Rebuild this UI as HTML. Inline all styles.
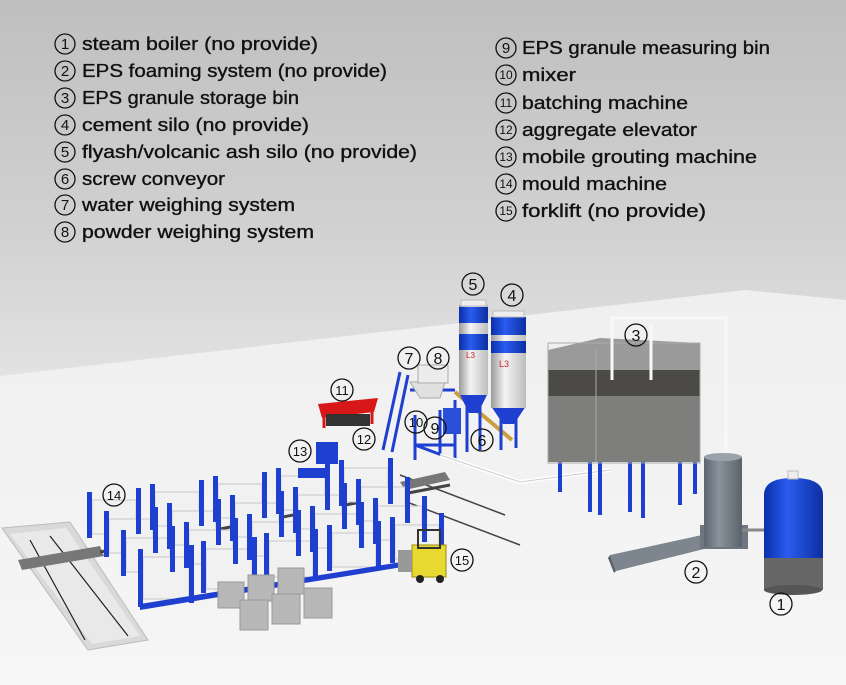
<!DOCTYPE html>
<html><head><meta charset="utf-8"><style>
html,body{margin:0;padding:0;width:846px;height:685px;overflow:hidden;background:#ddd}
svg{display:block}
text{font-family:"Liberation Sans",sans-serif;fill:#111}
.lg text{stroke:#111;stroke-width:0.35}
</style></head><body>
<svg width="846" height="685" viewBox="0 0 846 685" xmlns="http://www.w3.org/2000/svg">
<defs>
<linearGradient id="bg" x1="0" y1="0" x2="0" y2="1">
<stop offset="0" stop-color="#bfbfbf"/><stop offset="0.35" stop-color="#d2d2d2"/><stop offset="0.55" stop-color="#e2e2e2"/><stop offset="1" stop-color="#e8e8e8"/></linearGradient>
<linearGradient id="fl" x1="0" y1="0" x2="0" y2="1">
<stop offset="0" stop-color="#efefef"/><stop offset="1" stop-color="#f6f6f6"/></linearGradient>
<linearGradient id="cyl" x1="0" y1="0" x2="1" y2="0">
<stop offset="0" stop-color="#9a9a9a"/><stop offset="0.4" stop-color="#f4f4f4"/><stop offset="1" stop-color="#bdbdbd"/></linearGradient>
<linearGradient id="blu" x1="0" y1="0" x2="1" y2="0">
<stop offset="0" stop-color="#0a2fa8"/><stop offset="0.4" stop-color="#2a5cf0"/><stop offset="1" stop-color="#0c2fa0"/></linearGradient>
<linearGradient id="gry" x1="0" y1="0" x2="1" y2="0">
<stop offset="0" stop-color="#5d6670"/><stop offset="0.4" stop-color="#8a939c"/><stop offset="1" stop-color="#5a626b"/></linearGradient>
</defs>
<rect width="846" height="685" fill="url(#bg)"/>
<polygon points="0,376 745,290 846,300 846,685 0,685" fill="url(#fl)"/>

<!-- pit left -->
<polygon points="2,528 70,522 148,640 88,650" fill="#d9d9d9" stroke="#bbb"/>
<polygon points="10,534 66,528 140,636 92,644" fill="#e9e9e9"/>
<line x1="30" y1="540" x2="85" y2="640" stroke="#222" stroke-width="1.2"/>
<line x1="50" y1="536" x2="128" y2="636" stroke="#222" stroke-width="1.2"/>
<polygon points="18,560 100,546 104,556 22,570" fill="#777"/>
<!-- rails -->
<line x1="100" y1="552" x2="450" y2="485" stroke="#444" stroke-width="3"/>
<line x1="370" y1="488" x2="520" y2="545" stroke="#444" stroke-width="1.5"/>
<line x1="400" y1="475" x2="505" y2="515" stroke="#444" stroke-width="1.5"/>
<polygon points="400,482 445,472 450,480 405,490" fill="#777"/>

<!-- mould machines -->
<g>
<g fill="#f1f1f1" stroke="#c8c8c8">
<rect x="92" y="500" width="44" height="34"/><rect x="155" y="492" width="44" height="34"/><rect x="218" y="484" width="44" height="34"/><rect x="281" y="476" width="44" height="34"/><rect x="344" y="468" width="44" height="34"/>
<rect x="109" y="519" width="44" height="34"/><rect x="172" y="511" width="44" height="34"/><rect x="235" y="503" width="44" height="34"/><rect x="298" y="495" width="44" height="34"/><rect x="361" y="487" width="44" height="34"/>
<rect x="126" y="538" width="44" height="34"/><rect x="189" y="530" width="44" height="34"/><rect x="252" y="522" width="44" height="34"/><rect x="315" y="514" width="44" height="34"/><rect x="378" y="506" width="44" height="34"/>
<rect x="143" y="557" width="46" height="42"/><rect x="206" y="549" width="46" height="40"/><rect x="269" y="541" width="44" height="36"/><rect x="332" y="533" width="44" height="34"/><rect x="395" y="525" width="44" height="34"/>
</g>
<g fill="#1f3fd0">
<rect x="87" y="492" width="5" height="46"/><rect x="136" y="488" width="5" height="46"/><rect x="150" y="484" width="5" height="46"/><rect x="199" y="480" width="5" height="46"/><rect x="213" y="476" width="5" height="46"/><rect x="262" y="472" width="5" height="46"/><rect x="276" y="468" width="5" height="46"/><rect x="325" y="464" width="5" height="46"/><rect x="339" y="460" width="5" height="46"/><rect x="388" y="458" width="5" height="46"/>
<rect x="104" y="511" width="5" height="46"/><rect x="153" y="507" width="5" height="46"/><rect x="167" y="503" width="5" height="46"/><rect x="216" y="499" width="5" height="46"/><rect x="230" y="495" width="5" height="46"/><rect x="279" y="491" width="5" height="46"/><rect x="293" y="487" width="5" height="46"/><rect x="342" y="483" width="5" height="46"/><rect x="356" y="479" width="5" height="46"/><rect x="405" y="477" width="5" height="46"/>
<rect x="121" y="530" width="5" height="46"/><rect x="170" y="526" width="5" height="46"/><rect x="184" y="522" width="5" height="46"/><rect x="233" y="518" width="5" height="46"/><rect x="247" y="514" width="5" height="46"/><rect x="296" y="510" width="5" height="46"/><rect x="310" y="506" width="5" height="46"/><rect x="359" y="502" width="5" height="46"/><rect x="373" y="498" width="5" height="46"/><rect x="422" y="496" width="5" height="46"/>
<rect x="138" y="549" width="5" height="58"/><rect x="189" y="545" width="5" height="58"/><rect x="201" y="541" width="5" height="52"/><rect x="252" y="537" width="5" height="52"/><rect x="264" y="533" width="5" height="48"/><rect x="313" y="529" width="5" height="48"/><rect x="327" y="525" width="5" height="46"/><rect x="376" y="521" width="5" height="46"/><rect x="390" y="517" width="5" height="46"/><rect x="439" y="513" width="5" height="46"/>
<polygon points="140,604 445,555 445,560 140,610"/>
</g>
</g>

<!-- pallets of blocks -->
<g fill="#b8b8b8" stroke="#999">
<rect x="218" y="582" width="26" height="26"/><rect x="248" y="575" width="26" height="26"/><rect x="278" y="568" width="26" height="26"/>
<rect x="240" y="600" width="28" height="30"/><rect x="272" y="594" width="28" height="30"/><rect x="304" y="588" width="28" height="30"/>
</g>
<!-- forklift -->
<rect x="412" y="545" width="34" height="32" fill="#e8d930" stroke="#9a8a10"/>
<rect x="418" y="530" width="22" height="18" fill="none" stroke="#333" stroke-width="2"/>
<rect x="398" y="550" width="14" height="22" fill="#999"/>
<circle cx="420" cy="579" r="4" fill="#222"/><circle cx="440" cy="579" r="4" fill="#222"/>

<!-- grouting machine 13 -->
<rect x="316" y="442" width="22" height="22" fill="#1f3fd0"/>
<rect x="298" y="468" width="30" height="10" fill="#1f3fd0"/>

<!-- red hopper 11 -->
<polygon points="318,404 378,398 374,412 322,418" fill="#d81818"/>
<rect x="326" y="414" width="44" height="12" fill="#333"/>
<line x1="324" y1="416" x2="324" y2="428" stroke="#d81818" stroke-width="3"/>
<line x1="372" y1="410" x2="372" y2="424" stroke="#d81818" stroke-width="3"/>

<!-- batching tower -->
<g stroke="#1f3fd0" stroke-width="3" fill="none">
<line x1="383" y1="450" x2="400" y2="372"/><line x1="392" y1="452" x2="408" y2="375"/>
<line x1="410" y1="390" x2="455" y2="390"/>
<line x1="415" y1="460" x2="415" y2="415"/><line x1="455" y1="460" x2="455" y2="400"/>
<line x1="415" y1="445" x2="455" y2="445"/><line x1="415" y1="445" x2="455" y2="460"/>
<line x1="440" y1="455" x2="440" y2="410"/>
</g>
<polygon points="410,382 445,382 440,398 420,398" fill="#e0e0e0" stroke="#aaa"/>
<rect x="418" y="365" width="30" height="18" fill="#ececec" stroke="#aaa"/>
<rect x="443" y="408" width="18" height="26" fill="#2a4fd8"/>
<line x1="455" y1="392" x2="512" y2="440" stroke="#c9a040" stroke-width="4"/>
<polyline points="440,455 520,482 610,470" fill="none" stroke="#fff" stroke-width="4"/>
<polyline points="440,455 520,482 610,470" fill="none" stroke="#ccc" stroke-width="1"/>

<!-- silos -->
<g>
<line x1="467" y1="395" x2="467" y2="452" stroke="#1f3fd0" stroke-width="3"/>
<line x1="480" y1="395" x2="480" y2="450" stroke="#1f3fd0" stroke-width="3"/>
<polygon points="459,393 488,393 478,413 469,413" fill="#1f3fd0"/>
<rect x="459" y="305" width="29" height="90" fill="url(#cyl)"/>
<rect x="459" y="307" width="29" height="16" fill="url(#blu)"/>
<rect x="459" y="334" width="29" height="16" fill="url(#blu)"/>
<rect x="461" y="300" width="25" height="6" fill="#eee" stroke="#bbb"/>
</g>
<g>
<line x1="501" y1="408" x2="501" y2="450" stroke="#1f3fd0" stroke-width="3"/>
<line x1="516" y1="408" x2="516" y2="448" stroke="#1f3fd0" stroke-width="3"/>
<polygon points="491,406 526,406 514,424 503,424" fill="#1f3fd0"/>
<rect x="491" y="317" width="35" height="91" fill="url(#cyl)"/>
<rect x="491" y="317" width="35" height="18" fill="url(#blu)"/>
<rect x="491" y="341" width="35" height="12" fill="url(#blu)"/>
<rect x="493" y="311" width="31" height="6" fill="#eee" stroke="#bbb"/>
<text x="499" y="367" font-size="9" style="fill:#c22">L3</text>
<text x="466" y="358" font-size="8" style="fill:#c22">L3</text>
</g>

<!-- bin 3 legs -->
<g stroke="#1f3fd0" stroke-width="4">
<line x1="560" y1="460" x2="560" y2="492"/><line x1="590" y1="462" x2="590" y2="512"/><line x1="600" y1="462" x2="600" y2="515"/>
<line x1="630" y1="462" x2="630" y2="512"/><line x1="643" y1="462" x2="643" y2="518"/><line x1="680" y1="460" x2="680" y2="505"/><line x1="695" y1="458" x2="695" y2="494"/>
</g>
<!-- bin 3 -->
<polygon points="548,350 600,338 700,343 700,370 548,372" fill="#9a9a9a"/>
<rect x="548" y="370" width="152" height="28" fill="#4c4a46"/>
<rect x="548" y="396" width="152" height="66" fill="#8d8d8b"/>
<rect x="548" y="396" width="152" height="66" fill="#6a6866" opacity="0.4"/>
<line x1="596" y1="350" x2="596" y2="462" stroke="#aaa"/>
<rect x="548" y="343" width="152" height="120" fill="none" stroke="#aaa"/>
<!-- pipes -->
<polyline points="612,380 612,318 726,318 726,457" fill="none" stroke="#f8f8f8" stroke-width="3"/>
<line x1="651" y1="380" x2="651" y2="325" stroke="#f8f8f8" stroke-width="3"/>

<!-- tower 2 -->
<polygon points="610,555 702,535 708,548 616,571" fill="#7d868f"/>
<polygon points="610,555 616,571 614,573 608,558" fill="#5a626b"/>
<rect x="700" y="525" width="48" height="24" fill="#6e7780"/>
<rect x="704" y="457" width="38" height="90" fill="url(#gry)"/>
<ellipse cx="723" cy="457" rx="19" ry="4" fill="#9aa3ac"/>
<line x1="742" y1="530" x2="768" y2="530" stroke="#888" stroke-width="3"/>
<!-- boiler 1 -->
<rect x="764" y="558" width="59" height="32" fill="#666"/>
<ellipse cx="793" cy="590" rx="29" ry="5" fill="#555"/>
<path d="M764,558 L764,495 Q764,478 793,478 Q823,478 823,495 L823,558 Z" fill="url(#blu)"/>
<rect x="788" y="471" width="10" height="8" fill="#eee" stroke="#bbb"/>

<!-- scene labels -->
<g font-size="16" text-anchor="middle">
<g fill="none" stroke="#111" stroke-width="1.3">
<circle cx="781" cy="604" r="11"/><circle cx="696" cy="572" r="11"/><circle cx="636" cy="335" r="11"/>
<circle cx="512" cy="295" r="11"/><circle cx="473" cy="284" r="11"/><circle cx="482" cy="440" r="11"/>
<circle cx="409" cy="358" r="11"/><circle cx="438" cy="358" r="11"/><circle cx="435" cy="428" r="11"/>
<circle cx="416" cy="422" r="11"/><circle cx="342" cy="390" r="11"/><circle cx="364" cy="439" r="11"/>
<circle cx="300" cy="451" r="11"/><circle cx="114" cy="495" r="11"/><circle cx="462" cy="560" r="11"/>
</g>
<text x="781" y="610">1</text><text x="696" y="578">2</text><text x="636" y="341">3</text>
<text x="512" y="301">4</text><text x="473" y="290">5</text><text x="482" y="446">6</text>
<text x="409" y="364">7</text><text x="438" y="364">8</text><text x="435" y="434">9</text>
<text x="416" y="427" font-size="13">10</text><text x="342" y="395" font-size="13">11</text><text x="364" y="444" font-size="13">12</text>
<text x="300" y="456" font-size="13">13</text><text x="114" y="500" font-size="13">14</text><text x="462" y="565" font-size="13">15</text>
</g>

<!-- legend -->
<g fill="none" stroke="#111" stroke-width="1.3">
<circle cx="65" cy="44" r="10"/><circle cx="65" cy="71" r="10"/><circle cx="65" cy="98" r="10"/><circle cx="65" cy="125" r="10"/>
<circle cx="65" cy="152" r="10"/><circle cx="65" cy="179" r="10"/><circle cx="65" cy="205" r="10"/><circle cx="65" cy="232" r="10"/>
<circle cx="506" cy="48" r="10"/><circle cx="506" cy="75" r="10"/><circle cx="506" cy="103" r="10"/><circle cx="506" cy="130" r="10"/>
<circle cx="506" cy="157" r="10"/><circle cx="506" cy="184" r="10"/><circle cx="506" cy="211" r="10"/>
</g>
<g font-size="15" text-anchor="middle">
<text x="65" y="49">1</text><text x="65" y="76">2</text><text x="65" y="103">3</text><text x="65" y="130">4</text>
<text x="65" y="157">5</text><text x="65" y="184">6</text><text x="65" y="210">7</text><text x="65" y="237">8</text>
<text x="506" y="53">9</text>
</g>
<g font-size="12" text-anchor="middle">
<text x="506" y="79">10</text><text x="506" y="107">11</text><text x="506" y="134">12</text>
<text x="506" y="161">13</text><text x="506" y="188">14</text><text x="506" y="215">15</text>
</g>
<g font-size="18" class="lg">
<text x="82" y="50" textLength="236" lengthAdjust="spacingAndGlyphs">steam boiler (no provide)</text>
<text x="82" y="77" textLength="305" lengthAdjust="spacingAndGlyphs">EPS foaming system (no provide)</text>
<text x="82" y="104" textLength="217" lengthAdjust="spacingAndGlyphs">EPS granule storage bin</text>
<text x="82" y="131" textLength="227" lengthAdjust="spacingAndGlyphs">cement silo (no provide)</text>
<text x="82" y="158" textLength="335" lengthAdjust="spacingAndGlyphs">flyash/volcanic ash silo (no provide)</text>
<text x="82" y="185" textLength="143" lengthAdjust="spacingAndGlyphs">screw conveyor</text>
<text x="82" y="211" textLength="213" lengthAdjust="spacingAndGlyphs">water weighing system</text>
<text x="82" y="238" textLength="232" lengthAdjust="spacingAndGlyphs">powder weighing system</text>
<text x="522" y="54" textLength="248" lengthAdjust="spacingAndGlyphs">EPS granule measuring bin</text>
<text x="522" y="81" textLength="54" lengthAdjust="spacingAndGlyphs">mixer</text>
<text x="522" y="109" textLength="166" lengthAdjust="spacingAndGlyphs">batching machine</text>
<text x="522" y="136" textLength="175" lengthAdjust="spacingAndGlyphs">aggregate elevator</text>
<text x="522" y="163" textLength="235" lengthAdjust="spacingAndGlyphs">mobile grouting machine</text>
<text x="522" y="190" textLength="145" lengthAdjust="spacingAndGlyphs">mould machine</text>
<text x="522" y="217" textLength="184" lengthAdjust="spacingAndGlyphs">forklift (no provide)</text>
</g>
</svg>
</body></html>
